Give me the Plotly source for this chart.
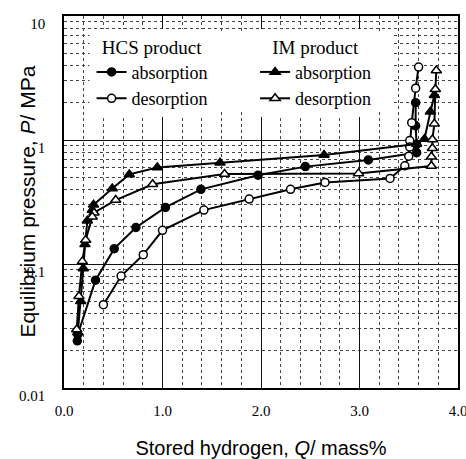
import plotly.graph_objects as go

# Data
hcs_abs_q = [0.135, 0.14, 0.32, 0.51, 0.73, 1.03, 1.39, 1.97, 2.45, 3.09, 3.58, 3.58, 3.57, 3.57]
hcs_abs_p = [0.024, 0.027, 0.074, 0.133, 0.197, 0.286, 0.40, 0.52, 0.61, 0.69, 0.79, 0.92, 1.3, 2.0]

hcs_des_q = [3.60, 3.57, 3.53, 3.51, 3.51, 3.50, 3.46, 3.31, 2.65, 2.30, 1.88, 1.42, 1.00, 0.805, 0.58, 0.40]
hcs_des_p = [3.87, 2.62, 1.38, 0.99, 0.88, 0.74, 0.62, 0.49, 0.455, 0.40, 0.334, 0.272, 0.187, 0.119, 0.080, 0.047]

im_abs_q = [0.14, 0.17, 0.196, 0.213, 0.237, 0.287, 0.30, 0.49, 0.663, 0.947, 1.584, 2.64, 3.58, 3.66, 3.72, 3.76]
im_abs_p = [0.028, 0.05, 0.092, 0.144, 0.223, 0.272, 0.30, 0.407, 0.528, 0.60, 0.656, 0.756, 0.93, 1.02, 1.69, 2.3]

im_des_q = [3.78, 3.77, 3.76, 3.74, 3.74, 3.73, 3.73, 2.99, 1.63, 0.90, 0.525, 0.305, 0.287, 0.22, 0.186, 0.152, 0.129]
im_des_p = [3.63, 2.57, 1.35, 1.01, 0.857, 0.733, 0.617, 0.538, 0.531, 0.439, 0.328, 0.259, 0.24, 0.156, 0.105, 0.055, 0.0296]

x_tickvals = [0, 1, 2, 3, 4]
x_ticktext = ["0.0", "1.0", "2.0", "3.0", "4.0"]
y_tickvals = [0.01, 0.1, 1, 10]
y_ticktext = ["0.01", "0.1", "1", "10"]

serif = "Liberation Serif"
sans = "Liberation Sans"

fig = go.Figure()

def add(q, p, name, symbol, fill, size, legend):
    fig.add_trace(go.Scatter(
        x=q, y=p, mode="lines+markers", name=name, legend=legend,
        line=dict(color="black", width=2),
        marker=dict(symbol=symbol, size=size, color=fill,
                    line=dict(color="black", width=1.5)),
    ))

add(hcs_abs_q, hcs_abs_p, "absorption", "circle", "black", 8, "legend")
add(hcs_des_q, hcs_des_p, "desorption", "circle", "white", 8, "legend")
add(im_abs_q, im_abs_p, "absorption", "triangle-up", "black", 9, "legend2")
add(im_des_q, im_des_p, "desorption", "triangle-up", "white", 9, "legend2")

legend_common = dict(
    bgcolor="white", borderwidth=0,
    font=dict(family=serif, size=18, color="black"),
    xanchor="left", yanchor="top", tracegroupgap=0,
    itemwidth=30,
)
title_font = dict(family=serif, size=19, color="black")

fig.update_layout(
    width=466, height=459,
    margin=dict(l=64, r=8, t=16, b=71),
    paper_bgcolor="white", plot_bgcolor="white",
    showlegend=True,
    shapes=[dict(type="rect", xref="paper", yref="paper",
                 x0=0.066, x1=0.835, y0=0.75, y1=0.957,
                 fillcolor="white", opacity=1,
                 line=dict(color="white", width=1), layer="above")],
    legend=dict(x=0.07, y=0.965, entrywidth=148,
                title=dict(text="HCS product", side="top center", font=title_font),
                **legend_common),
    legend2=dict(x=0.485, y=0.965,
                 title=dict(text="IM product", side="top center", font=title_font),
                 **legend_common),
    xaxis=dict(
        range=[0, 4], tickvals=x_tickvals, ticktext=x_ticktext,
        tickfont=dict(family=serif, size=15, color="black"),
        ticks="", ticklabelstandoff=8, ticklabeloverflow="allow",
        showline=True, mirror=True, linecolor="black", linewidth=1.5,
        showgrid=True, gridcolor="#111", gridwidth=1,
        zeroline=False, automargin=False,
        minor=dict(dtick=0.2, showgrid=True, gridcolor="#444",
                   griddash="dot", gridwidth=1),
        title=dict(text="Stored hydrogen, <i>Q</i>/ mass%",
                   font=dict(family=sans, size=20, color="black"),
                   standoff=24),
    ),
    yaxis=dict(
        type="log", range=[-2, 1], tickvals=y_tickvals, ticktext=y_ticktext,
        tickfont=dict(family=serif, size=15, color="black"),
        ticks="", ticklabelstandoff=14, ticklabelshift=8,
        ticklabeloverflow="allow",
        showline=True, mirror=True, linecolor="black", linewidth=1.5,
        showgrid=True, gridcolor="#111", gridwidth=1,
        zeroline=False, automargin=False,
        minor=dict(dtick="D1", showgrid=True, gridcolor="#444",
                   griddash="dot", gridwidth=1),
    ),
    annotations=[dict(
        text="Equilibrium pressure, <i>P</i>/ MPa",
        xref="paper", yref="paper", x=-0.095, y=0.5,
        xanchor="center", yanchor="middle", textangle=-90, showarrow=False,
        font=dict(family=sans, size=21, color="black"),
    )],
)

fig.write_html("out.html")
